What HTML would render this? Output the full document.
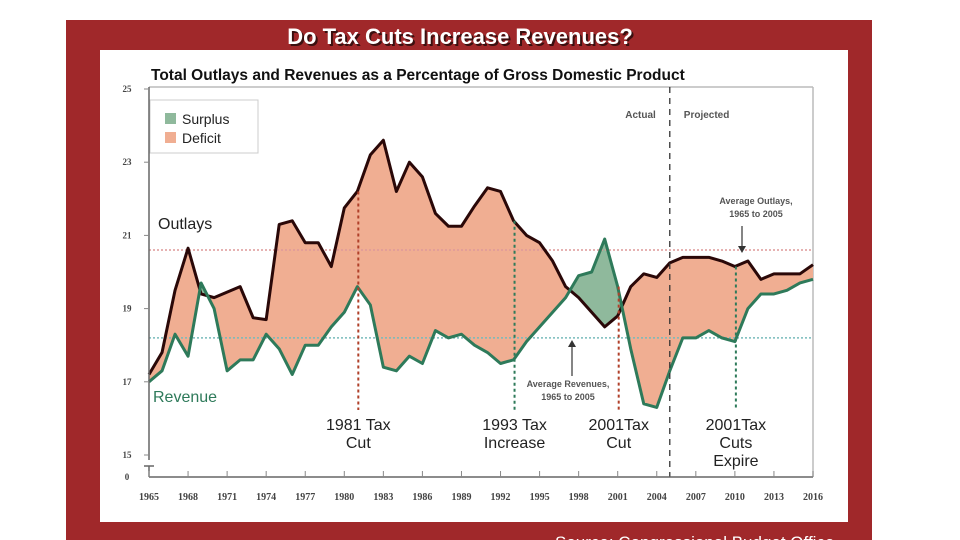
<!DOCTYPE html>
<html><head><meta charset="utf-8">
<style>
html,body{margin:0;padding:0;background:#fff;}
body{width:960px;height:540px;overflow:hidden;position:relative;font-family:"Liberation Sans",sans-serif;}
</style></head>
<body>
<svg id="chart" width="960" height="540" xmlns="http://www.w3.org/2000/svg" style="position:absolute;left:0;top:0">
  <rect x="66" y="20" width="806" height="530" fill="#a0282a"/>
  <rect x="100" y="50" width="748" height="472" fill="#fff"/>
  <text x="462" y="46" text-anchor="middle" font-size="22" font-weight="bold" fill="#3a1010">Do Tax Cuts Increase Revenues?</text>
  <text x="460" y="44" text-anchor="middle" font-size="22" font-weight="bold" fill="#fff">Do Tax Cuts Increase Revenues?</text>
  <text x="151" y="80" font-size="15.5" font-weight="bold" fill="#111">Total Outlays and Revenues as a Percentage of Gross Domestic Product</text>
  <text x="555" y="548" font-size="17" fill="#fff">Source: Congressional Budget Office</text>
  <g id="plot"></g>
</svg>
<script>
const years = [];
for (let y = 1965; y <= 2016; y++) years.push(y);
const outlays = [17.2,17.8,19.5,20.65,19.4,19.3,19.45,19.6,18.75,18.7,21.3,21.4,20.8,20.8,20.15,21.75,22.2,23.2,23.6,22.2,23.0,22.6,21.6,21.25,21.25,21.8,22.3,22.2,21.4,21.0,20.8,20.3,19.6,19.3,18.9,18.5,18.8,19.6,19.95,19.85,20.25,20.4,20.4,20.4,20.3,20.15,20.3,19.8,19.95,19.95,19.95,20.2];
const revenues = [17.0,17.3,18.3,17.7,19.7,19.0,17.3,17.6,17.6,18.3,17.9,17.2,18.0,18.0,18.5,18.9,19.6,19.1,17.4,17.3,17.7,17.5,18.4,18.2,18.3,18.0,17.8,17.5,17.6,18.1,18.5,18.9,19.3,19.9,20.0,20.9,19.6,17.9,16.4,16.3,17.3,18.2,18.2,18.4,18.2,18.1,19.0,19.4,19.4,19.5,19.7,19.8];
const yTicks = [25,23,21,19,17,15];
const xTickYears = [1965,1968,1971,1974,1977,1980,1983,1986,1989,1992,1995,1998,2001,2004,2007,2010,2013,2016];
const avgOutlays = 20.6;
const avgRevenues = 18.2;
const events = [
  {year:1981, lines:["1981 Tax","Cut"], color:"#b0402a"},
  {year:1993, lines:["1993 Tax","Increase"], color:"#2e7a5a"},
  {year:2001, lines:["2001Tax","Cut"], color:"#b0402a"},
  {year:2010, lines:["2001Tax","Cuts","Expire"], color:"#2e7a5a"}
];

const X0=149, X1=813, YT=89, YB=455, AXY=477;
const sx = yr => X0 + (yr-1965)*(X1-X0)/(2016-1965);
const sy = v => YT + (25-v)*(YB-YT)/10;
const NS="http://www.w3.org/2000/svg";
const plot=document.getElementById('plot');
function mk(tag, attrs){const e=document.createElementNS(NS,tag);for(const k in attrs)e.setAttribute(k,attrs[k]);plot.appendChild(e);return e;}

// frame lines
let e;
e=mk('line',{x1:X0,y1:87,x2:X1,y2:87,stroke:'#bbb','stroke-width':1.5});


e=mk('line',{x1:X1,y1:87,x2:X1,y2:AXY,stroke:'#bbb','stroke-width':1.5});



// clip paths
const defs=document.createElementNS(NS,'defs');plot.appendChild(defs);
function poly(id, vals, toY){
  const cp=document.createElementNS(NS,'clipPath');cp.setAttribute('id',id);
  const p=document.createElementNS(NS,'polygon');
  let pts=vals.map((v,i)=>sx(years[i])+','+sy(v));
  pts.push(sx(2016)+','+toY, sx(1965)+','+toY);
  p.setAttribute('points',pts.join(' '));cp.appendChild(p);defs.appendChild(cp);
}
poly('aboveRev', revenues, 0);
poly('aboveOut', outlays, 0);
function areaPts(vals,toY){let pts=vals.map((v,i)=>sx(years[i])+','+sy(v));pts.push(sx(2016)+','+toY, sx(1965)+','+toY);return pts.join(' ');}
e=mk('polygon',{points:areaPts(outlays,AXY),fill:'#f0ae92','clip-path':'url(#aboveRev)'});


e=mk('polygon',{points:areaPts(revenues,AXY),fill:'#8fb99c','clip-path':'url(#aboveOut)'});



// average lines
e=mk('line',{x1:X0,y1:sy(avgOutlays),x2:X1,y2:sy(avgOutlays),stroke:'#d99',"stroke-dasharray":'2,2','stroke-width':1.5});


e=mk('line',{x1:X0,y1:sy(avgRevenues),x2:X1,y2:sy(avgRevenues),stroke:'#7bb',"stroke-dasharray":'2,2','stroke-width':1.5});



// series lines
e=mk('polyline',{points:outlays.map((v,i)=>sx(years[i])+','+sy(v)).join(' '),fill:'none',stroke:'#2a0808','stroke-width':3,'stroke-linejoin':'round'});


e=mk('polyline',{points:revenues.map((v,i)=>sx(years[i])+','+sy(v)).join(' '),fill:'none',stroke:'#2e7a5a','stroke-width':3,'stroke-linejoin':'round'});



// actual/projected divider
e=mk('line',{x1:sx(2005),y1:87,x2:sx(2005),y2:AXY,stroke:'#333','stroke-dasharray':'6,5','stroke-width':1.3});


e=mk('text',{x:sx(2005)-14,y:118,'font-size':10,'font-weight':'bold',fill:'#555','text-anchor':'end'});e.textContent='Actual';


e=mk('text',{x:sx(2005)+14,y:118,'font-size':10,'font-weight':'bold',fill:'#555'});e.textContent='Projected';



// events
events.forEach(ev=>{
  const x=sx(ev.year)+1;
  const idx=ev.year-1965;
  const top=Math.min(sy(outlays[idx]),sy(revenues[idx]));
  let l=mk('line',{x1:x,y1:top,x2:x,y2:410,stroke:ev.color,'stroke-dasharray':'3,3','stroke-width':2});
  
  
  ev.lines.forEach((t,k)=>{
    const tx=mk('text',{x:x,y:430+k*18,'font-size':16,fill:'#222','text-anchor':'middle'});tx.textContent=t;
    
    
  });
});

// annotations
e=mk('text',{x:756,y:204,'font-size':9,'font-weight':'bold',fill:'#555','text-anchor':'middle'});e.textContent='Average Outlays,';


e=mk('text',{x:756,y:217,'font-size':9,'font-weight':'bold',fill:'#555','text-anchor':'middle'});e.textContent='1965 to 2005';


e=mk('line',{x1:742,y1:226,x2:742,y2:250,stroke:'#333','stroke-width':1.2});


e=mk('polygon',{points:'738,246 746,246 742,253',fill:'#333'});


e=mk('text',{x:568,y:387,'font-size':9,'font-weight':'bold',fill:'#555','text-anchor':'middle'});e.textContent='Average Revenues,';


e=mk('text',{x:568,y:400,'font-size':9,'font-weight':'bold',fill:'#555','text-anchor':'middle'});e.textContent='1965 to 2005';


e=mk('line',{x1:572,y1:343,x2:572,y2:376,stroke:'#333','stroke-width':1.2});


e=mk('polygon',{points:'568,347 576,347 572,340',fill:'#333'});



e=mk('text',{x:158,y:229,'font-size':16,fill:'#222'});e.textContent='Outlays';


e=mk('text',{x:153,y:402,'font-size':16,fill:'#2e7a5a'});e.textContent='Revenue';



// legend
e=mk('rect',{x:150,y:100,width:108,height:53,fill:'#fff',stroke:'#ccc'});


e=mk('rect',{x:165,y:113,width:11,height:11,fill:'#8fb99c'});


e=mk('text',{x:182,y:124,'font-size':14,fill:'#222'});e.textContent='Surplus';


e=mk('rect',{x:165,y:132,width:11,height:11,fill:'#f0ae92'});


e=mk('text',{x:182,y:143,'font-size':14,fill:'#222'});e.textContent='Deficit';



// axes
e=mk('line',{x1:X0,y1:87,x2:X0,y2:460,stroke:'#666','stroke-width':1.5});


e=mk('line',{x1:X0,y1:466,x2:X0,y2:AXY,stroke:'#666','stroke-width':1.5});


e=mk('line',{x1:X0-5,y1:466,x2:X0+5,y2:466,stroke:'#666','stroke-width':1.5});


yTicks.forEach(v=>{
  const t=mk('text',{x:127,y:sy(v)+3,'font-size':9,'font-family':'Liberation Serif, serif','font-weight':'bold',fill:'#444','text-anchor':'middle'});t.textContent=v;
  
  
  const l=mk('line',{x1:X0-5,y1:sy(v),x2:X0,y2:sy(v),stroke:'#888'});
  
  
});
e=mk('text',{x:127,y:AXY+3,'font-size':9,'font-family':'Liberation Serif, serif','font-weight':'bold',fill:'#444','text-anchor':'middle'});e.textContent='0';


e=mk('line',{x1:X0,y1:AXY,x2:X1,y2:AXY,stroke:'#666','stroke-width':1.5});


xTickYears.forEach(yr=>{
  const l=mk('line',{x1:sx(yr),y1:AXY-6,x2:sx(yr),y2:AXY,stroke:'#888'});
  
  
  const t=mk('text',{x:sx(yr),y:500,'font-size':10,'font-family':'Liberation Serif, serif','font-weight':'bold',fill:'#444','text-anchor':'middle'});t.textContent=yr;
  
  
});
</script>
</body></html>
